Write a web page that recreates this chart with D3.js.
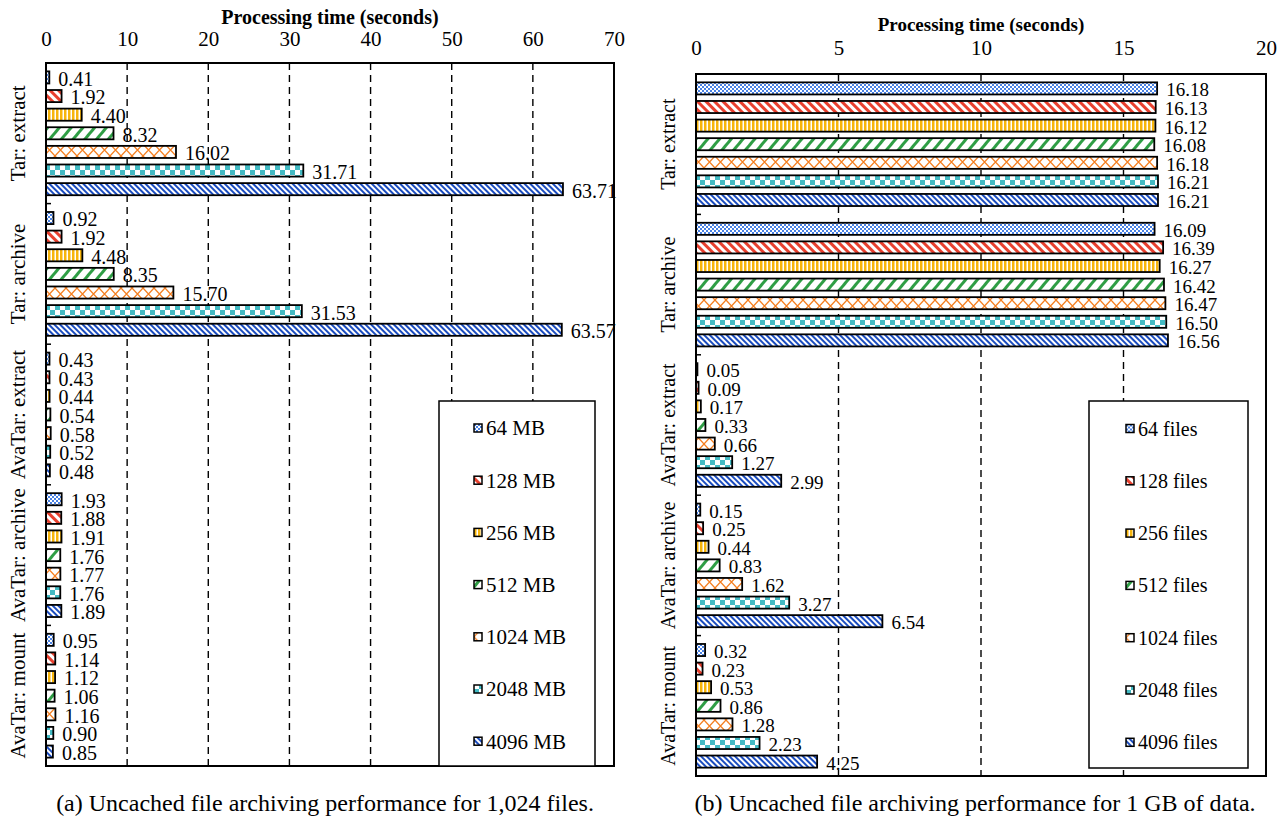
<!DOCTYPE html>
<html>
<head>
<meta charset="utf-8">
<script src="https://cdn.jsdelivr.net/npm/d3@7"></script>
<style>
    body { margin: 0; background: #ffffff; }
    svg text { font-family: "Liberation Serif", "Times New Roman", serif; fill: #000; }
</style>
</head>
<body>
<div id="chart"></div>
<script>
// groups (y axis) shared by both panels
const groups = ["Tar: extract", "Tar: archive", "AvaTar: extract", "AvaTar: archive", "AvaTar: mount"]

// panel (a): 1,024 files, varying size
const sizeSeries = ["64 MB", "128 MB", "256 MB", "512 MB", "1024 MB", "2048 MB", "4096 MB"]
const sizeTarExtract = [0.41, 1.92, 4.40, 8.32, 16.02, 31.71, 63.71]
const sizeTarArchive = [0.92, 1.92, 4.48, 8.35, 15.70, 31.53, 63.57]
const sizeAvaExtract = [0.43, 0.43, 0.44, 0.54, 0.58, 0.52, 0.48]
const sizeAvaArchive = [1.93, 1.88, 1.91, 1.76, 1.77, 1.76, 1.89]
const sizeAvaMount = [0.95, 1.14, 1.12, 1.06, 1.16, 0.90, 0.85]
const sizeTicks = [0, 10, 20, 30, 40, 50, 60, 70]

// panel (b): 1 GB of data, varying file count
const fileSeries = ["64 files", "128 files", "256 files", "512 files", "1024 files", "2048 files", "4096 files"]
const fileTarExtract = [16.18, 16.13, 16.12, 16.08, 16.18, 16.21, 16.21]
const fileTarArchive = [16.09, 16.39, 16.27, 16.42, 16.47, 16.50, 16.56]
const fileAvaExtract = [0.05, 0.09, 0.17, 0.33, 0.66, 1.27, 2.99]
const fileAvaArchive = [0.15, 0.25, 0.44, 0.83, 1.62, 3.27, 6.54]
const fileAvaMount = [0.32, 0.23, 0.53, 0.86, 1.28, 2.23, 4.25]
const fileTicks = [0, 5, 10, 15, 20]

const svg = d3.select("#chart")
    .append("svg")
    .attr("width", 1282)
    .attr("height", 819)

// hatch patterns, one per series
const defs = svg.append("defs")

function pattern(id, w, h, rot) {
    let p = defs.append("pattern")
        .attr("id", id)
        .attr("patternUnits", "userSpaceOnUse")
        .attr("width", w)
        .attr("height", h)
    if (rot) p.attr("patternTransform", `rotate(${rot})`)
    p.append("rect").attr("width", w).attr("height", h).attr("fill", "#fff")
    return p
}

let p0 = pattern("pat0", 4, 4)
p0.append("rect").attr("width", 2).attr("height", 2).attr("fill", "#4a82e4")
p0.append("rect").attr("x", 2).attr("y", 2).attr("width", 2).attr("height", 2).attr("fill", "#4a82e4")

pattern("pat1", 6, 6, -45)
    .append("rect").attr("width", 3).attr("height", 6).attr("fill", "#e8402f")

pattern("pat2", 4, 4)
    .append("rect").attr("width", 2.5).attr("height", 4).attr("fill", "#f7b50c")

pattern("pat3", 9, 9, 40)
    .append("rect").attr("width", 3).attr("height", 9).attr("fill", "#2f9e45")

let p4 = pattern("pat4", 11, 12)
p4.append("path")
    .attr("d", "M0,0L11,12M11,0L0,12")
    .attr("stroke", "#f57f20")
    .attr("stroke-width", 1.3)
    .attr("fill", "none")

let p5 = pattern("pat5", 10, 10)
p5.append("rect").attr("width", 5).attr("height", 5).attr("fill", "#43bac3")
p5.append("rect").attr("x", 5).attr("y", 5).attr("width", 5).attr("height", 5).attr("fill", "#43bac3")

pattern("pat6", 4, 4, -45)
    .append("rect").attr("width", 2).attr("height", 4).attr("fill", "#1a4cbf")

function drawPanel(cfg) {
    let x = d3.scaleLinear()
        .domain([cfg.ticks[0], cfg.ticks[cfg.ticks.length - 1]])
        .range([cfg.left, cfg.right])

    let yGroup = d3.scaleBand()
        .domain(groups)
        .range([cfg.top, cfg.bottom])

    let yBar = d3.scaleBand()
        .domain(d3.range(cfg.series.length))
        .range([0, yGroup.bandwidth()])
        .paddingInner(0.35)
        .paddingOuter(0.45)

    let g = svg.append("g")

    // title + top axis labels
    g.append("text")
        .attr("x", (cfg.left + cfg.right) / 2)
        .attr("y", cfg.titleY)
        .attr("text-anchor", "middle")
        .attr("font-size", cfg.titleSize)
        .attr("font-weight", "bold")
        .text("Processing time (seconds)")

    let xAxis = g.append("g")
        .attr("transform", `translate(0,${cfg.tickY})`)
        .call(d3.axisTop(x).tickValues(cfg.ticks).tickSize(0).tickPadding(0))
    xAxis.select(".domain").remove()
    xAxis.selectAll("text")
        .attr("font-size", "21px")
        .attr("font-family", "Liberation Serif")
        .attr("fill", "#000")

    // dashed grid
    g.selectAll("line.grid")
        .data(cfg.ticks.slice(1))
        .enter().append("line")
        .attr("x1", function (d) { return x(d) })
        .attr("x2", function (d) { return x(d) })
        .attr("y1", cfg.top)
        .attr("y2", cfg.bottom)
        .attr("stroke", "#000")
        .attr("stroke-width", 1.4)
        .attr("stroke-dasharray", "7,5")

    // bars
    let rows = []
    groups.forEach(function (grp, gi) {
        cfg.values[gi].forEach(function (v, si) {
            rows.push({ group: grp, s: si, value: v })
        })
    })

    g.selectAll("rect.bar")
        .data(rows)
        .enter().append("rect")
        .attr("x", x(0))
        .attr("y", function (d) { return yGroup(d.group) + yBar(d.s) })
        .attr("width", function (d) { return x(d.value) - x(0) })
        .attr("height", yBar.bandwidth())
        .attr("fill", function (d) { return `url(#pat${d.s})` })
        .attr("stroke", "#000")
        .attr("stroke-width", 1.8)

    g.selectAll("text.val")
        .data(rows)
        .enter().append("text")
        .attr("x", function (d) { return x(d.value) + 9 })
        .attr("y", function (d) { return yGroup(d.group) + yBar(d.s) + yBar.bandwidth() / 2 })
        .attr("dy", "0.42em")
        .attr("font-size", cfg.valueSize)
        .text(function (d) { return d.value.toFixed(2) })

    // group labels
    g.selectAll("text.grp")
        .data(groups)
        .enter().append("text")
        .attr("transform", function (d) {
            return `translate(${cfg.labelX},${yGroup(d) + yGroup.bandwidth() / 2}) rotate(-90)`
        })
        .attr("text-anchor", "middle")
        .attr("dy", "0.35em")
        .attr("font-size", cfg.groupSize)
        .text(function (d) { return d })

    // group separator ticks
    g.selectAll("line.sep")
        .data(groups.slice(1))
        .enter().append("line")
        .attr("x1", cfg.left)
        .attr("x2", cfg.left + 5)
        .attr("y1", function (d) { return yGroup(d) })
        .attr("y2", function (d) { return yGroup(d) })
        .attr("stroke", "#000")
        .attr("stroke-width", 1.5)

    // frame
    g.append("rect")
        .attr("x", cfg.left)
        .attr("y", cfg.top)
        .attr("width", cfg.right - cfg.left)
        .attr("height", cfg.bottom - cfg.top)
        .attr("fill", "none")
        .attr("stroke", "#000")
        .attr("stroke-width", 2)

    // legend
    let lg = cfg.legend
    g.append("rect")
        .attr("x", lg.x)
        .attr("y", lg.y)
        .attr("width", lg.w)
        .attr("height", lg.h)
        .attr("fill", "#fff")
        .attr("stroke", "#000")
        .attr("stroke-width", 1.5)

    let item = g.selectAll("g.leg")
        .data(cfg.series)
        .enter().append("g")
        .attr("transform", function (d, i) { return `translate(${lg.sx},${lg.firstY + i * lg.step})` })
    item.append("rect")
        .attr("x", 0)
        .attr("y", -4)
        .attr("width", 8)
        .attr("height", 8)
        .attr("fill", function (d, i) { return `url(#pat${i})` })
        .attr("stroke", "#000")
        .attr("stroke-width", 1.5)
    item.append("text")
        .attr("x", 12)
        .attr("y", 0)
        .attr("dy", "0.35em")
        .attr("font-size", cfg.legendSize)
        .text(function (d) { return d })

    // caption
    g.append("text")
        .attr("x", cfg.captionX)
        .attr("y", 811)
        .attr("text-anchor", "middle")
        .attr("font-size", "24px")
        .text(cfg.caption)
}

drawPanel({
    series: sizeSeries,
    values: [sizeTarExtract, sizeTarArchive, sizeAvaExtract, sizeAvaArchive, sizeAvaMount],
    ticks: sizeTicks,
    left: 46, right: 614, top: 63, bottom: 766,
    titleY: 24, tickY: 46, labelX: 18,
    titleSize: "20px", valueSize: "20px", groupSize: "21px", legendSize: "21px",
    legend: { x: 439, y: 401, w: 156, h: 365, sx: 474, firstY: 428, step: 52.2 },
    captionX: 325,
    caption: "(a) Uncached file archiving performance for 1,024 files."
})

drawPanel({
    series: fileSeries,
    values: [fileTarExtract, fileTarArchive, fileAvaExtract, fileAvaArchive, fileAvaMount],
    ticks: fileTicks,
    left: 696, right: 1266, top: 74, bottom: 776,
    titleY: 31, tickY: 55, labelX: 668,
    titleSize: "19px", valueSize: "19px", groupSize: "20px", legendSize: "20px",
    legend: { x: 1089, y: 401, w: 159, h: 367, sx: 1126, firstY: 428.5, step: 52.3 },
    captionX: 975,
    caption: "(b) Uncached file archiving performance for 1 GB of data."
})
</script>
</body>
</html>
